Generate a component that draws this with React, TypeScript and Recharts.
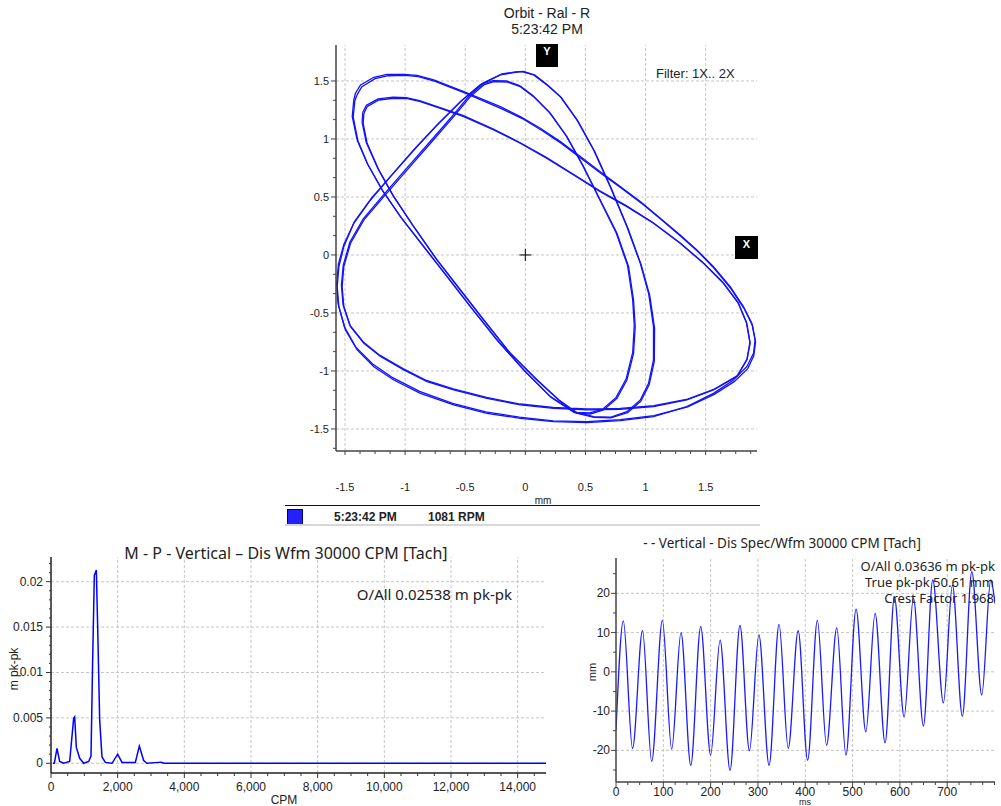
import React from 'react';
import { LineChart, Line, XAxis, YAxis, ReferenceLine, ReferenceDot } from 'recharts';

// ---------- Orbit (four traced revolutions, [x mm, y mm]) ----------
const orbitLoopA: [number, number][] = [
  [-1.413, 1.394], [-1.371, 1.466], [-1.26, 1.532], [-1.15, 1.557], [-1.011, 1.557], [-0.9, 1.549],
  [-0.762, 1.509], [-0.512, 1.408], [-0.208, 1.279], [-0.042, 1.193], [0.125, 1.092], [0.291, 0.977],
  [0.457, 0.848], [0.623, 0.718], [0.789, 0.589], [0.956, 0.46], [1.122, 0.316], [1.288, 0.172],
  [1.427, 0.043], [1.565, -0.101], [1.704, -0.273], [1.814, -0.445], [1.884, -0.589], [1.911, -0.733],
  [1.898, -0.848], [1.842, -0.963], [1.731, -1.078], [1.565, -1.193], [1.343, -1.307], [1.066, -1.394],
  [0.789, -1.428], [0.512, -1.445], [0.235, -1.437], [-0.042, -1.408], [-0.319, -1.365], [-0.596, -1.293],
  [-0.873, -1.193], [-1.094, -1.078], [-1.26, -0.963], [-1.399, -0.819], [-1.496, -0.647], [-1.551, -0.445],
  [-1.565, -0.273], [-1.551, -0.101], [-1.51, 0.072], [-1.427, 0.273], [-1.288, 0.474], [-1.122, 0.675],
  [-0.928, 0.905], [-0.734, 1.121], [-0.54, 1.322], [-0.374, 1.466], [-0.208, 1.552], [-0.097, 1.572],
  [-0.028, 1.58], [0.069, 1.552], [0.18, 1.466], [0.291, 1.365], [0.429, 1.164], [0.568, 0.905],
  [0.706, 0.589], [0.845, 0.244], [0.956, -0.072], [1.025, -0.33], [1.066, -0.618], [1.066, -0.905],
  [1.025, -1.106], [0.956, -1.25], [0.845, -1.351], [0.706, -1.399], [0.568, -1.394], [0.457, -1.365],
  [0.402, -1.351], [0.208, -1.221], [-0.014, -0.991], [-0.235, -0.733], [-0.457, -0.445], [-0.651, -0.187],
  [-0.845, 0.072], [-1.039, 0.33], [-1.191, 0.56], [-1.316, 0.79], [-1.399, 0.991], [-1.44, 1.193],
  [-1.427, 1.336], [-1.413, 1.394],
];

const orbitLoopA2: [number, number][] = [
  [-1.4, 1.38], [-1.36, 1.45], [-1.25, 1.52], [-1.14, 1.545], [-1.0, 1.548], [-0.89, 1.538],
  [-0.75, 1.497], [-0.5, 1.395], [-0.2, 1.262], [-0.03, 1.178], [0.135, 1.075], [0.3, 0.962],
  [0.465, 0.832], [0.63, 0.702], [0.8, 0.575], [0.965, 0.447], [1.13, 0.305], [1.295, 0.16],
  [1.435, 0.03], [1.57, -0.115], [1.71, -0.29], [1.82, -0.462], [1.89, -0.61], [1.915, -0.75],
  [1.9, -0.87], [1.85, -0.98], [1.74, -1.09], [1.575, -1.2], [1.35, -1.31], [1.07, -1.385],
  [0.79, -1.42], [0.51, -1.437], [0.23, -1.43], [-0.05, -1.398], [-0.33, -1.352], [-0.605, -1.28],
  [-0.88, -1.176], [-1.1, -1.06], [-1.27, -0.94], [-1.41, -0.795], [-1.505, -0.62], [-1.558, -0.42],
  [-1.57, -0.25], [-1.555, -0.08], [-1.51, 0.09], [-1.42, 0.29], [-1.28, 0.49], [-1.11, 0.69],
  [-0.915, 0.92], [-0.72, 1.135], [-0.525, 1.335], [-0.36, 1.478], [-0.195, 1.56], [-0.085, 1.578],
  [-0.015, 1.583], [0.08, 1.55], [0.19, 1.46], [0.3, 1.355], [0.44, 1.15], [0.578, 0.89],
  [0.715, 0.572], [0.855, 0.225], [0.965, -0.09], [1.035, -0.35], [1.075, -0.63], [1.073, -0.915],
  [1.03, -1.12], [0.96, -1.262], [0.85, -1.36], [0.71, -1.405], [0.57, -1.4], [0.46, -1.372],
  [0.405, -1.358], [0.215, -1.228], [-0.005, -1.0], [-0.226, -0.745], [-0.447, -0.458], [-0.64, -0.2],
  [-0.835, 0.058], [-1.03, 0.318], [-1.185, 0.55], [-1.31, 0.78], [-1.393, 0.985], [-1.432, 1.19],
  [-1.418, 1.33], [-1.4, 1.38],
];

const orbitLoopB: [number, number][] = [
  [-1.343, 1.221], [-1.316, 1.279], [-1.219, 1.336], [-1.094, 1.351], [-0.983, 1.348], [-0.873, 1.322],
  [-0.706, 1.264], [-0.512, 1.193], [-0.263, 1.078], [-0.042, 0.963], [0.18, 0.833], [0.402, 0.69],
  [0.623, 0.546], [0.845, 0.417], [1.066, 0.273], [1.288, 0.101], [1.482, -0.072], [1.648, -0.244],
  [1.773, -0.417], [1.842, -0.589], [1.87, -0.761], [1.842, -0.905], [1.759, -1.049], [1.565, -1.164],
  [1.343, -1.25], [1.066, -1.307], [0.789, -1.33], [0.512, -1.336], [0.235, -1.322], [-0.042, -1.293],
  [-0.319, -1.236], [-0.596, -1.164], [-0.817, -1.092], [-1.011, -0.991], [-1.205, -0.876], [-1.343, -0.761],
  [-1.454, -0.618], [-1.51, -0.445], [-1.524, -0.273], [-1.51, -0.101], [-1.454, 0.101], [-1.343, 0.302],
  [-1.177, 0.503], [-0.983, 0.733], [-0.789, 0.963], [-0.596, 1.193], [-0.457, 1.365], [-0.346, 1.466],
  [-0.263, 1.494], [-0.152, 1.491], [-0.042, 1.451], [0.069, 1.365], [0.208, 1.221], [0.346, 1.02],
  [0.485, 0.761], [0.623, 0.474], [0.762, 0.187], [0.859, -0.101], [0.9, -0.388], [0.914, -0.618],
  [0.9, -0.848], [0.845, -1.078], [0.762, -1.236], [0.651, -1.336], [0.54, -1.371], [0.429, -1.365],
  [0.291, -1.264], [0.097, -1.078], [-0.125, -0.848], [-0.346, -0.56], [-0.54, -0.302], [-0.734, -0.043],
  [-0.928, 0.244], [-1.094, 0.503], [-1.219, 0.733], [-1.316, 0.963], [-1.349, 1.135], [-1.343, 1.221],
];

const orbitLoopB2: [number, number][] = [
  [-1.352, 1.23], [-1.322, 1.29], [-1.225, 1.345], [-1.1, 1.36], [-0.99, 1.357], [-0.88, 1.33],
  [-0.715, 1.273], [-0.52, 1.203], [-0.27, 1.088], [-0.05, 0.972], [0.17, 0.843], [0.392, 0.7],
  [0.615, 0.556], [0.835, 0.427], [1.058, 0.282], [1.28, 0.11], [1.475, -0.062], [1.642, -0.235],
  [1.768, -0.408], [1.838, -0.58], [1.868, -0.752], [1.845, -0.898], [1.765, -1.04], [1.572, -1.156],
  [1.35, -1.242], [1.07, -1.3], [0.79, -1.322], [0.51, -1.328], [0.232, -1.315], [-0.045, -1.285],
  [-0.322, -1.228], [-0.6, -1.155], [-0.822, -1.082], [-1.018, -0.98], [-1.212, -0.864], [-1.35, -0.748],
  [-1.46, -0.605], [-1.516, -0.432], [-1.53, -0.262], [-1.515, -0.09], [-1.46, 0.11], [-1.35, 0.31],
  [-1.185, 0.512], [-0.992, 0.742], [-0.797, 0.972], [-0.605, 1.2], [-0.466, 1.372], [-0.354, 1.474],
  [-0.27, 1.503], [-0.158, 1.5], [-0.048, 1.46], [0.062, 1.374], [0.2, 1.23], [0.338, 1.03],
  [0.477, 0.772], [0.615, 0.485], [0.753, 0.197], [0.85, -0.09], [0.892, -0.378], [0.906, -0.608],
  [0.893, -0.84], [0.838, -1.07], [0.755, -1.228], [0.645, -1.328], [0.536, -1.362], [0.425, -1.357],
  [0.286, -1.256], [0.09, -1.07], [-0.132, -0.84], [-0.354, -0.55], [-0.548, -0.292], [-0.742, -0.033],
  [-0.936, 0.254], [-1.102, 0.513], [-1.226, 0.743], [-1.324, 0.972], [-1.358, 1.145], [-1.352, 1.23],
];

// ---------- Spectrum ----------
const spectrumCpm = [60, 100, 180, 260, 380, 560, 680, 710, 760, 860, 980, 1130, 1200, 1250, 1300, 1360, 1400, 1460, 1530, 1630, 1830, 2000, 2130, 2530, 2650, 2780, 2880, 3230, 3300, 3400, 14850];
const spectrumAmp = [0, 0, 0.00165, 0.0002, 0, 0.0002, 0.00495, 0.0051, 0.00175, 0.00055, 0, 0.0002, 0.0008, 0.0114, 0.0207, 0.0213, 0.015, 0.0048, 0.0007, 0.0001, 0, 0.001, 0.0001, 0.0001, 0.0019, 0.0003, 0, 0.0001, 0.00012, 0, 0];

// ---------- Waveform ----------
const waveTime = [0, 15.5, 35, 56, 75.4, 98, 117.7, 137.4, 158, 179, 200, 220, 241, 262, 282, 302, 323.5, 344.6, 364, 385, 405, 425.6, 445, 466.6, 486, 507.4, 528, 547.6, 568.7, 588.4, 608.9, 628.6, 649.7, 669.5, 692, 711, 732, 752, 773, 792, 801];
const waveValue = [-14.9, 13.0, -19.5, 10.5, -22.8, 13.1, -19.7, 10.0, -23.8, 11.5, -21.2, 8.1, -25.1, 11.8, -20.1, 9.4, -23.8, 12.1, -19.5, 10.5, -22.5, 13.1, -18.7, 11.2, -21.2, 16.0, -15.3, 14.9, -18.1, 19.1, -11.5, 18.8, -13.8, 23.4, -7.9, 22.1, -11.3, 25.5, -5.9, 23.4, 17.4];

// ---------- Tick labels ----------
const orbitXMajor = [-1.5, -1, -0.5, 0, 0.5, 1, 1.5];
const orbitYMajor = [-1.5, -1, -0.5, 0, 0.5, 1, 1.5];
const specXMajor = [0, 2000, 4000, 6000, 8000, 10000, 12000, 14000];
const specYMajor = [0, 0.005, 0.01, 0.015, 0.02];
const waveXMajor = [0, 100, 200, 300, 400, 500, 600, 700];
const waveYMajor = [-20, -10, 0, 10, 20];

const SANS = '"Liberation Sans", Arial, sans-serif';
const HUM = '"Noto Sans", "Open Sans", sans-serif';

function stepTicks(start: number, end: number, step: number) {
  const out: number[] = [];
  for (let i = 0; ; i++) {
    const v = +(start + i * step).toFixed(6);
    if (v > end + 1e-9) break;
    out.push(v);
  }
  return out;
}

const orbitXTicks = stepTicks(-1.5, 1.875, 0.125);
const orbitYTicks = stepTicks(-1.5 - 1 / 6, 1.5 + 1 / 6, 1 / 6);
const specXTicks = stepTicks(0, 14500, 500);
const specYTicks = stepTicks(0, 0.022, 0.001);
const waveXTicks = stepTicks(0, 800, 25);
const waveYTicks = stepTicks(-25, 25, 5);

const isIn = (arr: number[], v: number) => arr.some((m) => Math.abs(m - v) < 1e-7);

type TickCfg = { majors: number[]; fmt: (v: number) => string; size: number; majorLen: number; minorLen: number; off: number; color: string };

const bottomTick = (c: TickCfg) => (p: any) => {
  const v = p.payload.value;
  const major = isIn(c.majors, v);
  return (
    <g>
      <line x1={p.x} x2={p.x} y1={p.y} y2={p.y + (major ? c.majorLen : c.minorLen)} stroke={c.color} strokeWidth={1} />
      {major && (
        <text x={p.x} y={p.y + c.off} textAnchor="middle" dominantBaseline="central" fontSize={c.size} fontFamily={SANS} fill="#222">
          {c.fmt(v)}
        </text>
      )}
    </g>
  );
};

const leftTick = (c: TickCfg) => (p: any) => {
  const v = p.payload.value;
  const major = isIn(c.majors, v);
  return (
    <g>
      <line x1={p.x} x2={p.x - (major ? c.majorLen : c.minorLen)} y1={p.y} y2={p.y} stroke={c.color} strokeWidth={1} />
      {major && (
        <text x={p.x - c.off} y={p.y} textAnchor="end" dominantBaseline="central" fontSize={c.size} fontFamily={SANS} fill="#222">
          {c.fmt(v)}
        </text>
      )}
    </g>
  );
};

const numFmt = (v: number) => String(+v.toFixed(4));
const commaFmt = (v: number) => v.toLocaleString('en-US');

const GRID = '#c6c6c6';
const DASH = '3 2';

const Txt = ({ x, y, children, size = 12, anchor = 'middle', weight = 400, family = SANS, color = '#222', rotate = 0 }: any) => {
  const tx = anchor === 'middle' ? '-50%' : anchor === 'end' ? '-100%' : '0';
  return (
    <div
      style={{
        position: 'absolute', left: x, top: y,
        transform: `translate(${tx}, -50%)${rotate ? ` rotate(${rotate}deg)` : ''}`,
        fontSize: size, fontFamily: family, fontWeight: weight, color, whiteSpace: 'nowrap', lineHeight: 1,
      }}
    >
      {children}
    </div>
  );
};

const crossShape = (p: any) => (
  <g>
    <line x1={p.cx - 6} x2={p.cx + 6} y1={p.cy} y2={p.cy} stroke="#000" strokeWidth={1} />
    <line x1={p.cx} x2={p.cx} y1={p.cy - 6} y2={p.cy + 6} stroke="#000" strokeWidth={1} />
  </g>
);

const ORBIT_BLUE = '#1212ff';

function OrbitChart() {
  const loops = [orbitLoopA, orbitLoopA2, orbitLoopB, orbitLoopB2].map((l) => l.map(([x, y]) => ({ x, y })));
  const xc: TickCfg = { majors: orbitXMajor, fmt: numFmt, size: 11, majorLen: 4, minorLen: 3, off: 36, color: '#444' };
  const yc: TickCfg = { majors: orbitYMajor, fmt: numFmt, size: 11, majorLen: 5, minorLen: 3, off: 7, color: '#444' };
  return (
    <div style={{ position: 'absolute', left: 280, top: 30 }}>
      <LineChart width={490} height={480} margin={{ top: 15, right: 13, bottom: 9, left: 16 }}>
        <XAxis type="number" dataKey="x" domain={[-1.575, 1.927]} allowDataOverflow ticks={orbitXTicks} interval={0}
          tickSize={0} tickMargin={0} tickLine={false} axisLine={{ stroke: '#444', strokeWidth: 1.5 }} height={50} tick={bottomTick(xc)} />
        <YAxis type="number" domain={[-1.69, 1.81]} allowDataOverflow ticks={orbitYTicks} interval={0}
          tickSize={0} tickMargin={0} tickLine={false} axisLine={{ stroke: '#444', strokeWidth: 1.5 }} width={40} tick={leftTick(yc)} />
        {orbitXMajor.map((v) => <ReferenceLine key={'ox' + v} x={v} stroke={GRID} strokeDasharray={DASH} />)}
        {orbitYMajor.map((v) => <ReferenceLine key={'oy' + v} y={v} stroke={GRID} strokeDasharray={DASH} />)}
        {loops.map((d, i) => (
          <Line key={'loop' + i} data={d} dataKey="y" type="linear" stroke={ORBIT_BLUE} strokeWidth={1.3} dot={false} activeDot={false} isAnimationActive={false} />
        ))}
        <ReferenceDot x={0} y={0} r={6} shape={crossShape} />
      </LineChart>
    </div>
  );
}

function SpectrumChart() {
  const data = spectrumCpm.map((c, i) => ({ cpm: c, amp: spectrumAmp[i] }));
  const xc: TickCfg = { majors: specXMajor, fmt: commaFmt, size: 12, majorLen: 5, minorLen: 3, off: 14, color: '#333' };
  const yc: TickCfg = { majors: specYMajor, fmt: numFmt, size: 12, majorLen: 5, minorLen: 2, off: 8, color: '#333' };
  return (
    <div style={{ position: 'absolute', left: 0, top: 530 }}>
      <LineChart width={560} height={276} data={data} margin={{ top: 27, right: 14, bottom: 3, left: 11 }}>
        <XAxis type="number" dataKey="cpm" domain={[0, 14850]} allowDataOverflow ticks={specXTicks} interval={0}
          tickSize={0} tickMargin={0} tickLine={false} axisLine={{ stroke: '#222', strokeWidth: 1.5 }} height={30} tick={bottomTick(xc)} />
        <YAxis type="number" domain={[-0.00107, 0.02272]} allowDataOverflow ticks={specYTicks} interval={0}
          tickSize={0} tickMargin={0} tickLine={false} axisLine={{ stroke: '#222', strokeWidth: 1.5 }} width={40} tick={leftTick(yc)} />
        {specXMajor.filter((v) => v > 0).map((v) => <ReferenceLine key={'sx' + v} x={v} stroke={GRID} strokeDasharray={DASH} />)}
        {specYMajor.map((v) => <ReferenceLine key={'sy' + v} y={v} stroke={GRID} strokeDasharray={DASH} />)}
        <Line dataKey="amp" type="linear" stroke="#0000ff" strokeWidth={1.5} dot={false} activeDot={false} isAnimationActive={false} />
      </LineChart>
    </div>
  );
}

function WaveChart() {
  const data = waveTime.map((t, i) => ({ t, v: waveValue[i] }));
  const xc: TickCfg = { majors: waveXMajor, fmt: numFmt, size: 12, majorLen: 5, minorLen: 3, off: 10, color: '#444' };
  const yc: TickCfg = { majors: waveYMajor, fmt: numFmt, size: 12, majorLen: 5, minorLen: 3, off: 6, color: '#444' };
  return (
    <div style={{ position: 'absolute', left: 570, top: 530 }}>
      <LineChart width={431} height={276} data={data} margin={{ top: 28, right: 6, bottom: 2, left: 10 }}>
        <XAxis type="number" dataKey="t" domain={[0, 801]} allowDataOverflow ticks={waveXTicks} interval={0}
          tickSize={0} tickMargin={0} tickLine={false} axisLine={{ stroke: '#444', strokeWidth: 1.5 }} height={22} tick={bottomTick(xc)} />
        <YAxis type="number" domain={[-28.06, 29.0]} allowDataOverflow ticks={waveYTicks} interval={0}
          tickSize={0} tickMargin={0} tickLine={false} axisLine={{ stroke: '#444', strokeWidth: 1.5 }} width={36} tick={leftTick(yc)} />
        {waveXMajor.filter((v) => v > 0).map((v) => <ReferenceLine key={'wx' + v} x={v} stroke={GRID} strokeDasharray={DASH} />)}
        {waveYMajor.map((v) => <ReferenceLine key={'wy' + v} y={v} stroke={GRID} strokeDasharray={DASH} />)}
        <Line dataKey="v" type="monotone" stroke="#1a1aff" strokeWidth={1.3} dot={false} activeDot={false} isAnimationActive={false} />
      </LineChart>
    </div>
  );
}

export default function App() {
  return (
    <div style={{ position: 'absolute', left: 0, top: 0, width: 1001, height: 806, background: '#fff', overflow: 'hidden' }}>
      {/* Orbit */}
      <Txt x={547} y={13} size={14}>Orbit - Ral - R</Txt>
      <Txt x={547} y={29} size={14}>5:23:42 PM</Txt>
      <OrbitChart />
      <div style={{ position: 'absolute', left: 536, top: 44, width: 22, height: 23, background: '#000' }} />
      <Txt x={547} y={51} size={11} weight={700} color="#fff">Y</Txt>
      <div style={{ position: 'absolute', left: 735, top: 236, width: 23, height: 23, background: '#000' }} />
      <Txt x={746.5} y={243.5} size={11} weight={700} color="#fff">X</Txt>
      <Txt x={656} y={73} size={13} anchor="start">Filter: 1X.. 2X</Txt>
      <Txt x={543} y={501} size={10}>mm</Txt>
      <div style={{ position: 'absolute', left: 285, top: 505, width: 475, height: 1, background: '#111' }} />
      <div style={{ position: 'absolute', left: 287, top: 509, width: 14, height: 14, background: '#2222ff', border: '1px solid #000060' }} />
      <Txt x={334} y={517} size={12} weight={700} anchor="start">5:23:42 PM</Txt>
      <Txt x={428} y={517} size={12} weight={700} anchor="start">1081 RPM</Txt>
      <div style={{ position: 'absolute', left: 285, top: 524, width: 475, height: 2, background: '#d8d8d8' }} />

      {/* Spectrum */}
      <SpectrumChart />
      <Txt x={286} y={553} size={16} family={HUM}>M - P - Vertical – Dis Wfm 30000 CPM [Tach]</Txt>
      <Txt x={512} y={594} size={15} family={HUM} anchor="end">O/All 0.02538 m pk-pk</Txt>
      <Txt x={14} y={669} size={12} rotate={-90}>m pk-pk</Txt>
      <Txt x={284} y={800} size={12}>CPM</Txt>

      {/* Waveform */}
      <WaveChart />
      <Txt x={782} y={544} size={13.5} family={HUM}>- - Vertical - Dis Spec/Wfm 30000 CPM [Tach]</Txt>
      <Txt x={995} y={566} size={13} family={HUM} anchor="end">O/All 0.03636 m pk-pk</Txt>
      <Txt x={994} y={582} size={13} family={HUM} anchor="end">True pk-pk 50.61 mm</Txt>
      <Txt x={994} y={598} size={13} family={HUM} anchor="end">Crest Factor 1.968</Txt>
      <Txt x={592} y={672} size={11} rotate={-90}>mm</Txt>
      <Txt x={805} y={802} size={9}>ms</Txt>
    </div>
  );
}
